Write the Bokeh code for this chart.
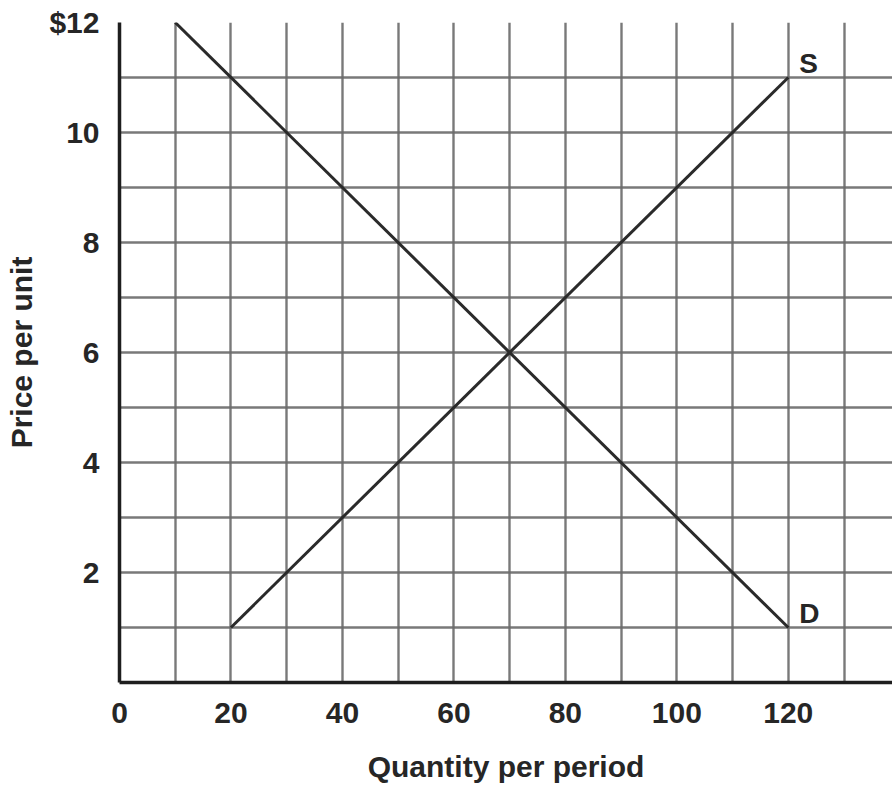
from bokeh.plotting import figure
from bokeh.models import Range1d, FixedTicker, ColumnDataSource
from bokeh.core.properties import value
from bokeh.embed import file_html
from bokeh.resources import INLINE

# Data
demand_q = [10, 120]
demand_p = [12, 1]
supply_q = [20, 120]
supply_p = [1, 11]
curve_labels = ["S", "D"]
label_q = [120, 120]
label_p = [11, 1]
x_ticks = [0, 20, 40, 60, 80, 100, 120]
y_ticks = [2, 4, 6, 8, 10, 12]
y_tick_labels = {2: "2", 4: "4", 6: "6", 8: "8", 10: "10", 12: "$12"}

FONT = "Liberation Sans"
TXT = "#262626"

p = figure(width=892, height=787, output_backend="svg", toolbar_location=None,
           x_range=Range1d(0, 138.7), y_range=Range1d(0, 12),
           min_border_left=119, min_border_right=0, min_border_top=22, min_border_bottom=105)
p.outline_line_color = None
p.background_fill_color = "white"

# grid
p.xgrid.ticker = FixedTicker(ticks=list(range(0, 140, 10)))
p.ygrid.ticker = FixedTicker(ticks=list(range(0, 13)))
for g in (p.xgrid, p.ygrid):
    g.grid_line_color = "#6a6a6a"
    g.grid_line_width = 2.4
    g.grid_line_alpha = 0.9

# axes
p.xaxis.ticker = FixedTicker(ticks=x_ticks)
p.yaxis.ticker = FixedTicker(ticks=y_ticks)
p.yaxis.major_label_overrides = y_tick_labels
for ax in (p.xaxis, p.yaxis):
    ax.axis_line_color = "#1e1e1e"
    ax.axis_line_width = 3.5
    ax.major_tick_line_color = None
    ax.minor_tick_line_color = None
    ax.major_tick_out = 0
    ax.major_tick_in = 0
    ax.major_label_text_font = FONT
    ax.major_label_text_font_style = "bold"
    ax.major_label_text_font_size = "30px"
    ax.major_label_text_color = TXT
    ax.axis_label_text_font = FONT
    ax.axis_label_text_font_style = "bold"
    ax.axis_label_text_font_size = "30px"
    ax.axis_label_text_color = TXT
p.xaxis.major_label_standoff = 20
p.yaxis.major_label_standoff = 20
p.xaxis.axis_label = "Quantity per period"
p.yaxis.axis_label = "Price per unit"
p.xaxis.axis_label_standoff = 24
p.yaxis.axis_label_standoff = 8

# curves
p.line(demand_q, demand_p, line_color="#2a2a2a", line_width=3)
p.line(supply_q, supply_p, line_color="#2a2a2a", line_width=3)

src = ColumnDataSource(dict(x=label_q, y=label_p, t=curve_labels))
p.text(x="x", y="y", text="t", source=src, x_offset=11, y_offset=-14,
       text_font=value(FONT), text_font_style="bold", text_font_size="28px",
       text_color=TXT, text_align="left", text_baseline="alphabetic")

open("out.html", "w").write(file_html(p, INLINE))
